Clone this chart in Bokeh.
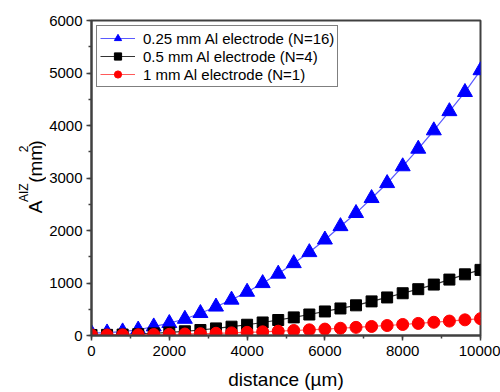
import math
from bokeh.plotting import figure
from bokeh.layouts import row
from bokeh.models import Range1d, SingleIntervalTicker
from bokeh.core.properties import value
from bokeh.embed import file_html
from bokeh.resources import INLINE

distance = [0, 400, 800, 1200, 1600, 2000, 2400, 2800, 3200, 3600, 4000, 4400, 4800,
            5200, 5600, 6000, 6400, 6800, 7200, 7600, 8000, 8400, 8800, 9200, 9600, 10000]

a_025 = [45, 55, 75, 110, 170, 235, 315, 425, 548, 680, 830, 995, 1175,
         1375, 1585, 1825, 2080, 2330, 2615, 2900, 3220, 3555, 3905, 4270, 4635, 5050]
a_05 = [10, 12, 18, 25, 40, 58, 80, 105, 135, 168, 205, 248, 295,
        345, 400, 458, 515, 575, 650, 725, 805, 882, 970, 1065, 1165, 1250]
a_1 = [10, 10, 12, 15, 18, 22, 28, 35, 42, 50, 60, 70, 82,
       95, 108, 122, 138, 155, 172, 190, 210, 230, 252, 275, 298, 320]

labels = ["0.25 mm Al electrode (N=16)", "0.5 mm Al electrode (N=4)", "1 mm Al electrode (N=1)"]

FONT = "Liberation Sans"
LEFT_W = 46
H = 392

# ---- narrow strip holding the y-axis title A^AIZ (mm^2) ----
t = figure(width=LEFT_W, height=H, output_backend="svg", toolbar_location=None,
           x_range=Range1d(0, LEFT_W), y_range=Range1d(0, H),
           x_axis_location=None, y_axis_location=None,
           min_border=0, min_border_left=0, min_border_right=0, min_border_top=0, min_border_bottom=0)
t.outline_line_color = None
t.xgrid.visible = False
t.ygrid.visible = False
t.background_fill_color = "white"
t.border_fill_color = "white"

ang = math.pi / 2
# (text, x from left, y measured from top of the page, size)
title_pieces = [
    ("A", 35, 240, "19px"),
    ("AIZ", 23, 226, "12px"),
    ("(mm", 35, 202, "19px"),
    ("2", 23, 164, "12px"),
    (")", 35, 157, "19px"),
]
for txt, cx, cy, fs in title_pieces:
    t.text(x=[cx], y=[H - cy], text=[txt], angle=ang, text_font=value(FONT),
           text_font_size=fs, text_color="black", text_align="left",
           text_baseline="alphabetic")

# ---- main chart ----
p = figure(width=500 - LEFT_W, height=H, output_backend="svg", toolbar_location=None,
           x_range=Range1d(0, 10000), y_range=Range1d(0, 6000),
           min_border_left=91 - LEFT_W, min_border_right=20, min_border_top=20, min_border_bottom=57)
p.background_fill_color = "white"
p.border_fill_color = "white"
p.xgrid.visible = False
p.ygrid.visible = False
p.outline_line_color = "#404040"
p.outline_line_width = 2

p.xaxis.ticker = SingleIntervalTicker(interval=2000, num_minor_ticks=2)
p.yaxis.ticker = SingleIntervalTicker(interval=1000, num_minor_ticks=2)
for ax in (p.xaxis[0], p.yaxis[0]):
    ax.axis_line_color = "#404040"
    ax.axis_line_width = 2
    ax.major_tick_line_color = "#404040"
    ax.minor_tick_line_color = "#404040"
    ax.major_tick_line_width = 1.5
    ax.minor_tick_line_width = 1.5
    ax.major_tick_in = 0
    ax.major_tick_out = 5
    ax.minor_tick_in = 0
    ax.minor_tick_out = 3
    ax.major_label_text_font = FONT
    ax.major_label_text_font_size = "15px"
    ax.major_label_text_color = "black"
p.yaxis.major_label_standoff = 4
p.xaxis.major_label_standoff = 5

p.xaxis.axis_label = "distance (\u00b5m)"
p.xaxis.axis_label_text_font = FONT
p.xaxis.axis_label_text_font_size = "19px"
p.xaxis.axis_label_text_font_style = "normal"
p.xaxis.axis_label_text_color = "black"
p.xaxis.axis_label_standoff = 10

colors_line = ["#5a5aff", "#333333", "#ff5a5a"]
colors_mark = ["#0000ff", "#000000", "#ff0000"]
markers = ["triangle", "square", "circle"]
sizes = [15, 11, 12]
series = [a_025, a_05, a_1]

for ys, lab, cl, cm, mk, sz in zip(series, labels, colors_line, colors_mark, markers, sizes):
    p.line(distance, ys, line_color=cl, line_width=1.2, legend_label=lab)
    p.scatter(distance, ys, marker=mk, size=sz, fill_color=cm, line_color=cm, legend_label=lab)

lg = p.legend[0]
lg.location = "top_left"
lg.margin = 5
lg.padding = 3
lg.spacing = 0
lg.label_height = 18
lg.glyph_height = 18
lg.glyph_width = 35
lg.label_standoff = 8
lg.label_text_font = FONT
lg.label_text_font_size = "15px"
lg.label_text_color = "black"
lg.border_line_color = "black"
lg.border_line_width = 1
lg.background_fill_color = "white"
lg.background_fill_alpha = 1

layout = row(t, p, spacing=0)
open("out.html", "w").write(file_html(layout, INLINE))
